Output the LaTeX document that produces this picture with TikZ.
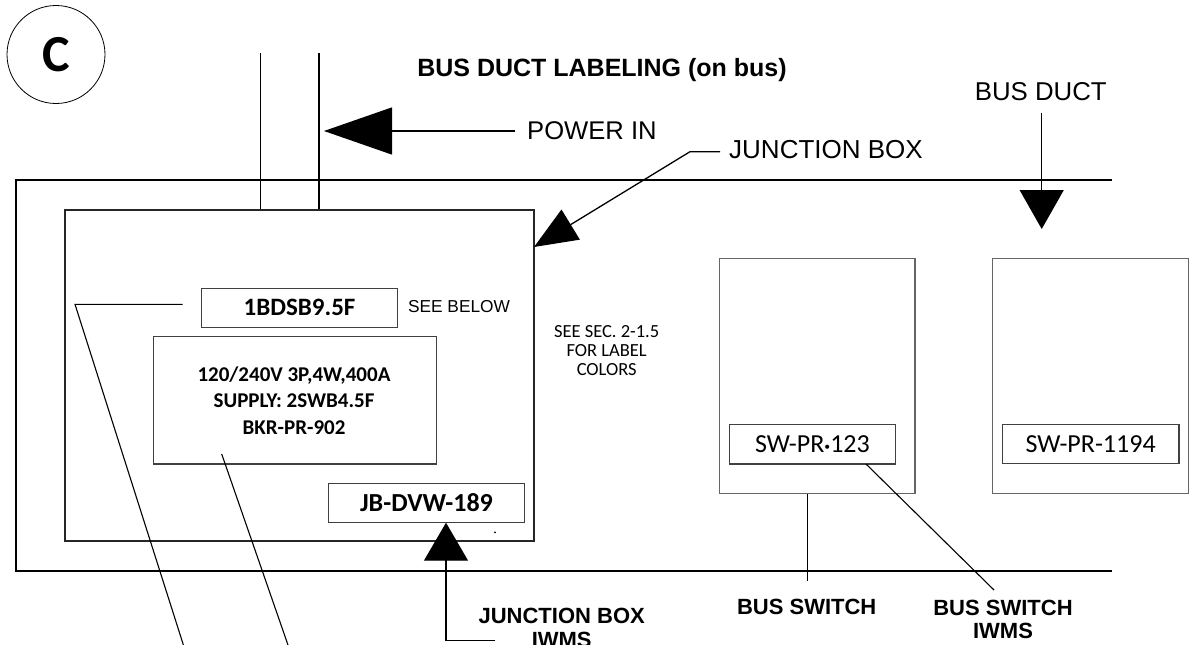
\documentclass[tikz,border=0pt]{standalone}
\usepackage{fontspec}
\setmainfont{Liberation Sans}
\newfontfamily\calfont{Carlito}
\usetikzlibrary{arrows.meta,calc}
\newcommand{\fsz}[2]{\fontsize{#1}{#2}\selectfont}
\tikzset{
  ln/.style={line width=1.3pt, draw=black},
  bigbox/.style={draw=black!85, line width=1.5pt, inner sep=0pt},
  lblbox/.style={draw=black!75, line width=1.3pt, inner sep=0pt},
  swbox/.style={draw=black!60, line width=1.3pt, inner sep=0pt},
  txt/.style={inner sep=0pt, text=black},
}
\begin{document}
\begin{tikzpicture}[x=1pt,y=-1pt]
\useasboundingbox (0,0) rectangle (1191,645);
% circle label
\node[draw, circle, line width=0.8pt, minimum size=98pt, inner sep=0pt, font={\calfont\bfseries\fsz{52}{52}}] (circ) at (56,54.5) {C};
% title
\node[txt, font={\bfseries\fsz{25}{30}}] (title) at (602,70) {BUS DUCT LABELING (on bus)};
% bus duct outline
\coordinate (dtr) at (1112,180);
\coordinate (dtl) at (16,180);
\coordinate (dbl) at (16,571);
\coordinate (dbr) at (1112,571);
\draw[ln] (dtr) -- (dtl) -- (dbl) -- (dbr);
% junction box
\node[bigbox, minimum width=469pt, minimum height=331pt] (jbox) at (299.5,375.5) {};
% power in lines
\coordinate (p1) at (260.7,53);
\coordinate (p2) at (319,53);
\draw[ln] (p1) -- (p1 |- jbox.north);
\draw[ln] (p2) -- (p2 |- jbox.north);
% labels inside junction box
\node[lblbox, minimum width=195.6pt, minimum height=39pt, font={\calfont\bfseries\fsz{25}{30}}] (lab1) at (299.5,307.8) {1BDSB9.5F};
\node[txt, font={\fsz{17.3}{20}}] (seebelow) at (459,306.7) {SEE BELOW};
\node[lblbox, minimum width=283.4pt, minimum height=127.3pt] (info) at (295,400.3) {};
\node[txt, align=center, font={\calfont\bfseries\fsz{21}{26.3}}] (infotxt) at (294,400.5) {120/240V 3P,4W,400A\\SUPPLY: 2SWB4.5F\\BKR-PR-902};
\node[lblbox, minimum width=195.6pt, minimum height=39pt, font={\calfont\bfseries\fsz{26}{30}}] (jbid) at (426.5,502.8) {JB-DVW-189};
\fill (495,532.3) circle (1pt);
% see sec text
\node[txt, align=center, font={\calfont\fsz{18.5}{19}}] (seesec) at (606.7,350.5) {SEE SEC. 2-1.5\\FOR LABEL\\COLORS};
% switch boxes
\node[swbox, minimum width=195.7pt, minimum height=235pt] (sw1) at (817.2,375.8) {};
\node[lblbox, minimum width=166.4pt, minimum height=39.7pt, font={\calfont\fsz{26}{30}}] (sw1lab) at (812.5,444.2) {SW-PR\raisebox{2pt}{\scalebox{0.45}{\textbullet}}123};
\node[swbox, minimum width=195.6pt, minimum height=235pt] (sw2) at (1090.5,375.8) {};
\node[lblbox, minimum width=176.7pt, minimum height=39pt, font={\calfont\fsz{26}{30}}] (sw2lab) at (1090.7,443.8) {SW-PR-1194};
% top labels and arrows
\node[txt, anchor=west, font={\fsz{25.6}{30}}] (powerin) at (527,131) {POWER IN};
\coordinate (pintip) at (324,131);
\draw[ln, -{Triangle[length=68pt,width=47pt]}] (powerin.west) ++(-12,0) -- (pintip);
\node[txt, anchor=west, font={\fsz{26}{30}}] (jblabel) at (729,150) {JUNCTION BOX};
\coordinate (jbknee) at (690,151.7);
\coordinate (jbtip) at (534,247);
\draw[ln, -{Triangle[length=43pt,width=35pt]}] (jblabel.west) ++(-9,1.7) -- (jbknee) -- (jbtip);
\node[txt, font={\fsz{25.8}{30}}] (busduct) at (1040.8,91.7) {BUS DUCT};
\coordinate (bdtip) at (1041.7,229);
\draw[ln, -{Triangle[length=39pt,width=44pt]}] (busduct.south) ++(0.9,12) -- (bdtip);
% bottom labels
\node[txt, align=center, font={\bfseries\fsz{22}{24.5}}] (jbiwms) at (561.7,628) {JUNCTION BOX\\IWMS};
\coordinate (jbw) at (495,640.7);
\coordinate (jbup) at (446,640.7);
\coordinate (jbuptip) at (446,522.7);
\draw[ln, -{Triangle[length=38pt,width=44pt]}] (jbw) -- (jbup) -- (jbuptip);
\node[txt, font={\bfseries\fsz{22}{24}}] (busswitch) at (806.7,607.3) {BUS SWITCH};
\node[txt, align=center, font={\bfseries\fsz{22}{23}}] (bsiwms) at (1003,619.5) {BUS SWITCH\\IWMS};
\coordinate (bsend) at (807.7,581);
\draw[ln, line width=1.1pt] (bsend |- sw1.south) -- (bsend);
\coordinate (bsi1) at (866,464);
\coordinate (bsi2) at (994,590);
\draw[ln, line width=1.1pt] (bsi1) -- (bsi2);
% leaders from labels going off the bottom
\coordinate (l1a) at (182.7,304.3);
\coordinate (l1b) at (75,304.3);
\coordinate (l1c) at (183.4,645);
\draw[ln, line width=1.1pt] (l1a) -- (l1b) -- (l1c);
\coordinate (l2a) at (221.7,454);
\coordinate (l2b) at (288,645);
\draw[ln, line width=1.1pt] (l2a) -- (l2b);
\end{tikzpicture}
\end{document}
